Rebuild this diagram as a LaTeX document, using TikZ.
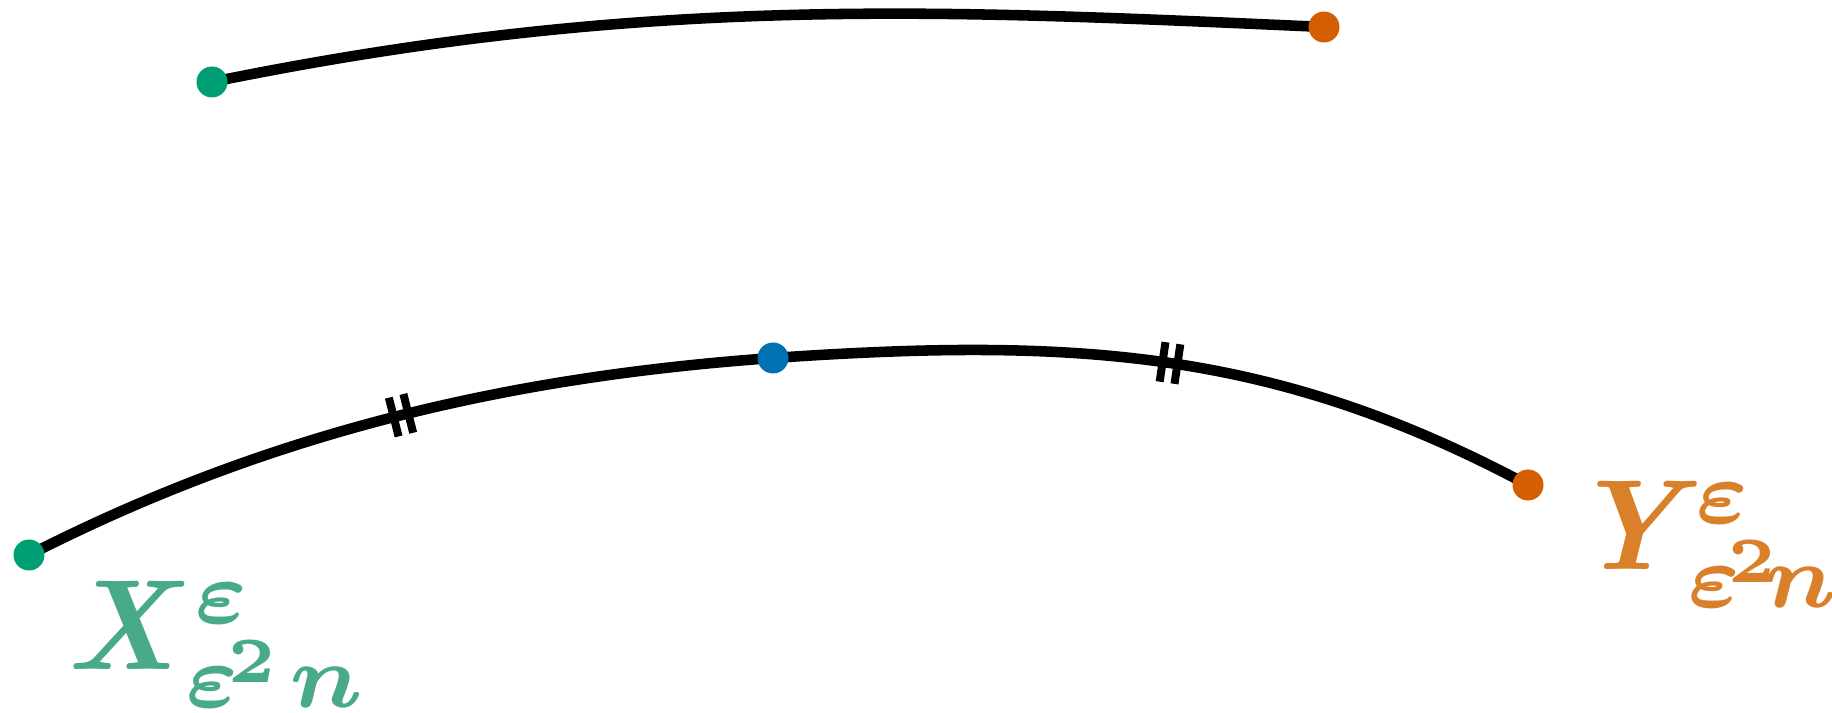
\documentclass[tikz,border=0pt]{standalone}
\usepackage{amsmath,amssymb}
\usepackage{bm}
\usepackage{xcolor}
\usepackage{tikz}

\definecolor{okgreen}{HTML}{009E73}
\definecolor{okorange}{HTML}{D55E00}
\definecolor{okblue}{HTML}{0072B2}
\definecolor{lblgreen}{HTML}{48AA87}
\definecolor{lblorange}{HTML}{DA7F2A}

\begin{document}
\begin{tikzpicture}[
  curve/.style={line width=3pt},
  dot/.style={circle, fill=#1, inner sep=0pt, minimum size=3.1mm},
  lbl/.style={anchor=base west, inner sep=0pt, scale=3.66, transform shape},
  tickpair/.style={pos=0.5, sloped, inner sep=0pt}]
  \useasboundingbox (0,0) rectangle (18.32,7.13);
  % --- upper path ---
  \coordinate (ts) at (2.12,6.31);
  \coordinate (te) at (13.24,6.86);
  \draw[curve] (ts) .. controls (6.43,7.19) and (9.4,7.03) .. (te);
  \node[dot=okgreen] (tsdot) at (ts) {};
  \node[dot=okorange] (tedot) at (te) {};

  % --- lower path, split at its midpoint ---
  \coordinate (xs) at (0.29,1.58);
  \coordinate (mid) at (7.73,3.55);
  \coordinate (ys) at (15.28,2.28);
  \draw[curve] (xs) .. controls (2.80,2.86) and (5.22,3.37) .. (mid)
    node[tickpair] (tk1) {\rule[-0.2cm]{0.08cm}{0.4cm}\hspace{0.07cm}\rule[-0.2cm]{0.08cm}{0.4cm}};
  \draw[curve] (mid) .. controls (10.78,3.76) and (12.75,3.63) .. (ys)
    node[tickpair] (tk2) {\rule[-0.2cm]{0.08cm}{0.4cm}\hspace{0.07cm}\rule[-0.2cm]{0.08cm}{0.4cm}};
  \node[dot=okgreen] (xdot) at (xs) {};
  \node[dot=okblue] (mdot) at (mid) {};
  \node[dot=okorange] (ydot) at (ys) {};

  % labels
  \node[lbl, text=lblgreen] (xlbl) at (0.63,0.43) {%
    \rlap{\textbf{\textit{X}}}%
    \rlap{\hspace{10.0pt}\raisebox{3.65pt}{$\scriptstyle\bm{\varepsilon}$}}%
    \rlap{\hspace{9.3pt}\raisebox{-2.95pt}{$\scriptstyle\bm{\varepsilon}$}}%
    \rlap{\hspace{12.6pt}\raisebox{-1.0pt}{$\scriptscriptstyle\bm{2}$}}%
    \hspace{17.4pt}\raisebox{-2.95pt}{$\scriptstyle\bm{n}$}};
  \node[lbl, text=lblorange] (ylbl) at (15.68,1.43) {%
    \rlap{\textbf{\textit{Y}}}%
    \rlap{\hspace{9.7pt}\raisebox{3.65pt}{$\scriptstyle\bm{\varepsilon}$}}%
    \rlap{\hspace{9.1pt}\raisebox{-2.95pt}{$\scriptstyle\bm{\varepsilon}$}}%
    \rlap{\hspace{12.2pt}\raisebox{-1.0pt}{$\scriptscriptstyle\bm{2}$}}%
    \hspace{15.0pt}\raisebox{-2.95pt}{$\scriptstyle\bm{n}$}};
\end{tikzpicture}
\end{document}
